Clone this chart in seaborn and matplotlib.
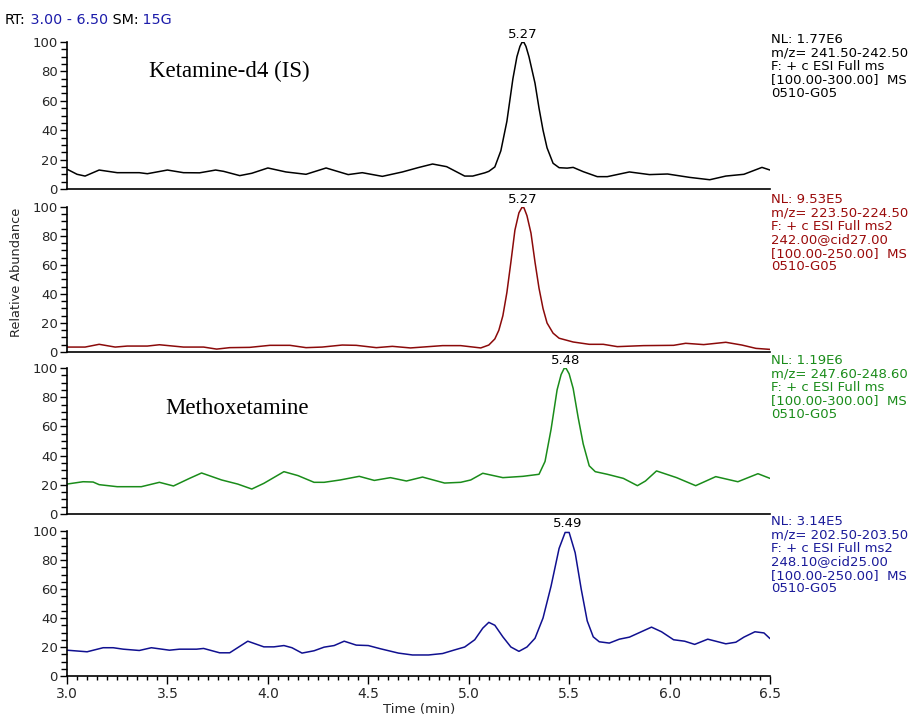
import matplotlib
matplotlib.use("Agg")
import matplotlib.pyplot as plt
import seaborn as sns
from matplotlib.ticker import MultipleLocator, FormatStrFormatter

sns.set_style("ticks")
plt.rcParams['font.family'] = ['DejaVu Sans']

# ---------------- data ----------------
ket_t = [3.00, 3.05, 3.09, 3.16, 3.25, 3.36, 3.40, 3.50, 3.58, 3.66, 3.74, 3.78, 3.86, 3.92,
         4.00, 4.09, 4.19, 4.29, 4.40, 4.47, 4.57, 4.67, 4.75, 4.82, 4.89, 4.98, 5.02, 5.08,
         5.10, 5.13, 5.16, 5.19, 5.22, 5.24, 5.255, 5.265, 5.275, 5.285, 5.30, 5.33, 5.35,
         5.37, 5.39, 5.42, 5.45, 5.49, 5.52, 5.57, 5.64, 5.69, 5.80, 5.90, 5.99, 6.10, 6.20,
         6.28, 6.37, 6.46, 6.50]
ket_y = [13.5, 10.0, 8.8, 12.9, 11.1, 11.1, 10.4, 12.9, 11.1, 11.0, 12.9, 12.0, 9.1, 10.7,
         14.3, 11.6, 10.0, 14.3, 9.8, 11.1, 8.6, 11.6, 14.6, 17.0, 15.2, 8.8, 8.8, 11.0,
         12.0, 15.0, 26.0, 46.0, 75.0, 90.0, 97.0, 99.7, 99.7, 97.0, 90.0, 72.0, 55.0,
         40.0, 28.0, 17.5, 14.5, 14.2, 14.7, 11.8, 8.4, 8.4, 11.6, 9.8, 10.2, 7.9, 6.3,
         8.8, 10.0, 14.7, 12.9]

red_t = [3.00, 3.09, 3.16, 3.24, 3.30, 3.40, 3.46, 3.58, 3.68, 3.745, 3.81, 3.91, 4.01, 4.11,
         4.19, 4.27, 4.37, 4.44, 4.54, 4.62, 4.71, 4.87, 4.96, 5.06, 5.10, 5.13, 5.15, 5.17,
         5.19, 5.21, 5.23, 5.25, 5.265, 5.275, 5.29, 5.31, 5.33, 5.35, 5.37, 5.39, 5.42, 5.45,
         5.52, 5.60, 5.67, 5.74, 5.87, 6.02, 6.08, 6.17, 6.28, 6.36, 6.43, 6.50]
red_y = [3.4, 3.4, 5.3, 3.4, 4.1, 4.1, 5.0, 3.4, 3.4, 2.0, 3.0, 3.2, 4.6, 4.6,
         3.0, 3.4, 4.8, 4.6, 3.0, 3.9, 2.8, 4.4, 4.4, 2.8, 4.8, 9.0, 15.0, 25.0,
         41.0, 62.0, 84.0, 96.0, 99.7, 99.5, 94.0, 82.0, 62.0, 44.0, 30.0, 20.0, 13.0, 9.5,
         6.9, 5.3, 5.3, 3.7, 4.4, 4.6, 6.0, 5.1, 6.7, 4.8, 2.5, 1.8]

grn_t = [3.00, 3.08, 3.13, 3.16, 3.25, 3.37, 3.46, 3.53, 3.61, 3.67, 3.77, 3.85, 3.92, 3.98,
         4.08, 4.15, 4.23, 4.28, 4.36, 4.455, 4.53, 4.61, 4.69, 4.77, 4.88, 4.96, 5.01, 5.07,
         5.17, 5.27, 5.35, 5.38, 5.41, 5.44, 5.46, 5.475, 5.485, 5.50, 5.52, 5.545, 5.57, 5.60,
         5.63, 5.69, 5.77, 5.84, 5.88, 5.935, 6.035, 6.13, 6.23, 6.34, 6.44, 6.50]
grn_y = [20.5, 22.1, 21.9, 20.1, 18.7, 18.7, 21.7, 19.2, 24.4, 28.1, 23.3, 20.5, 17.1, 21.0,
         29.0, 26.3, 21.7, 21.7, 23.3, 25.8, 23.0, 24.9, 22.6, 25.3, 21.2, 21.7, 23.3, 27.9,
         24.9, 25.8, 27.2, 36.0, 58.0, 85.0, 95.5, 99.7, 99.7, 96.0, 86.0, 66.0, 48.0, 33.0,
         29.0, 27.2, 24.4, 19.4, 22.6, 29.5, 24.9, 19.4, 25.6, 22.1, 27.6, 24.4]

blu_t = [3.00, 3.10, 3.18, 3.23, 3.28, 3.36, 3.42, 3.51, 3.56, 3.645, 3.68, 3.76, 3.81, 3.90,
         3.98, 4.03, 4.08, 4.12, 4.17, 4.23, 4.28, 4.33, 4.38, 4.44, 4.50, 4.56, 4.65, 4.72,
         4.80, 4.87, 4.93, 4.98, 5.03, 5.07, 5.10, 5.13, 5.17, 5.21, 5.25, 5.29, 5.33, 5.37,
         5.41, 5.45, 5.48, 5.50, 5.53, 5.56, 5.59, 5.62, 5.65, 5.70, 5.75, 5.80, 5.91, 5.96,
         6.02, 6.075, 6.125, 6.19, 6.23, 6.28, 6.33, 6.37, 6.425, 6.47, 6.50]
blu_y = [17.8, 16.7, 19.5, 19.5, 18.5, 17.6, 19.5, 17.8, 18.5, 18.5, 19.0, 16.0, 16.0, 24.0,
         20.1, 20.1, 21.0, 19.5, 15.8, 17.4, 19.9, 21.0, 24.0, 21.3, 21.0, 18.8, 15.8, 14.5,
         14.5, 15.5, 18.0, 20.0, 25.0, 33.0, 37.0, 35.0, 27.0, 20.0, 17.0, 20.0, 26.0, 40.0,
         62.0, 88.0, 99.0, 99.0, 85.0, 60.0, 38.0, 27.0, 23.6, 22.7, 25.4, 26.8, 33.7, 30.5,
         25.0, 24.0, 21.8, 25.4, 24.0, 22.2, 23.3, 26.8, 30.5, 29.7, 25.8]

peak_rt = [5.27, 5.27, 5.48, 5.49]
peak_labels = ["5.27", "5.27", "5.48", "5.49"]
compound_names = ["Ketamine-d4 (IS)", None, "Methoxetamine", None]
info_texts = [
    "NL: 1.77E6\nm/z= 241.50-242.50\nF: + c ESI Full ms\n[100.00-300.00]  MS\n0510-G05",
    "NL: 9.53E5\nm/z= 223.50-224.50\nF: + c ESI Full ms2\n242.00@cid27.00\n[100.00-250.00]  MS\n0510-G05",
    "NL: 1.19E6\nm/z= 247.60-248.60\nF: + c ESI Full ms\n[100.00-300.00]  MS\n0510-G05",
    "NL: 3.14E5\nm/z= 202.50-203.50\nF: + c ESI Full ms2\n248.10@cid25.00\n[100.00-250.00]  MS\n0510-G05",
]
series = [(ket_t, ket_y), (red_t, red_y), (grn_t, grn_y), (blu_t, blu_y)]
line_colors = ["#000000", "#8b0a0a", "#1a8c1a", "#101090"]
text_colors = ["#000000", "#9a0a0a", "#1a8c1a", "#1a1a99"]

# ---------------- figure ----------------
W, H = 912, 717
fig = plt.figure(figsize=(W / 100, H / 100), dpi=100)

boxes = [(42, 189), (207, 352), (368, 514), (531, 676)]
left_px, right_px = 67, 770
info_top = [33, 193, 354, 515]
name_pos = [(3.41, 80), None, (3.49, 72), None]

for i, (top, bot) in enumerate(boxes):
    ax = fig.add_axes([left_px / W, 1 - bot / H, (right_px - left_px) / W, (bot - top) / H])
    t, y = series[i]
    sns.lineplot(x=t, y=y, ax=ax, color=line_colors[i], linewidth=1.1, estimator=None, sort=False)
    ax.set_xlim(3.0, 6.5)
    ax.set_ylim(0, 100)
    ax.set_xlabel("")
    ax.set_ylabel("")
    for s in ["top", "right"]:
        ax.spines[s].set_visible(False)
    for s in ["left", "bottom"]:
        ax.spines[s].set_linewidth(1.2)
        ax.spines[s].set_color("black")
    ax.yaxis.set_major_locator(MultipleLocator(20))
    ax.yaxis.set_minor_locator(MultipleLocator(5))
    ax.tick_params(axis="y", which="major", length=5, width=1.0, direction="out",
                   labelsize=9.5, pad=1.5, color="black")
    ax.tick_params(axis="y", which="minor", length=4, width=1.0, direction="out", color="black")
    if i < 3:
        ax.tick_params(axis="x", which="both", bottom=False, labelbottom=False)
    else:
        ax.xaxis.set_major_locator(MultipleLocator(0.5))
        ax.xaxis.set_minor_locator(MultipleLocator(0.05))
        ax.xaxis.set_major_formatter(FormatStrFormatter("%.1f"))
        ax.tick_params(axis="x", which="major", length=6, width=1.0, labelsize=10, pad=2,
                       color="black")
        ax.tick_params(axis="x", which="minor", length=3, width=1.0, color="black")

    ax.annotate(peak_labels[i], xy=(peak_rt[i], 100), xytext=(0, 1.0),
                textcoords="offset points", ha="center", va="bottom", fontsize=9.5,
                color="black", annotation_clip=False)
    if compound_names[i]:
        nx, ny = name_pos[i]
        ax.text(nx, ny, compound_names[i], family="Liberation Serif", fontsize=16.5,
                ha="left", va="center", color="black")
    fig.text((right_px + 1) / W, 1 - info_top[i] / H, info_texts[i], ha="left", va="top",
             fontsize=9.5, color=text_colors[i], linespacing=1.04)

# header, pieces placed one after another
renderer = fig.canvas.get_renderer()
hdr_y = 1 - 20 / H
blue = "#1c1caa"
x = 5
for txt, col in [("RT:", "black"), (" 3.00 - 6.50", blue), (" SM:", "black"), (" 15G", blue)]:
    tt = fig.text(x / W, hdr_y, txt, fontsize=10.3, color=col, va="center", ha="left")
    x += tt.get_window_extent(renderer).width

fig.text(17 / W, 1 - 272 / H, "Relative Abundance", rotation=90, fontsize=9.3,
         ha="center", va="center")
fig.text(419 / W, 1 - 709 / H, "Time (min)", fontsize=9.5, ha="center", va="center")

fig.savefig("out.png", dpi=100, facecolor="white")
